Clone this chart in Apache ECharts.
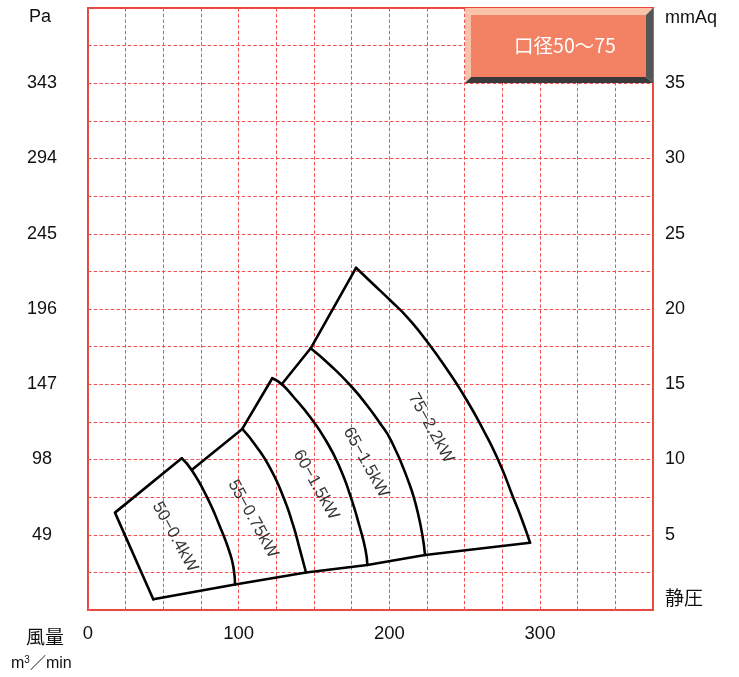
<!DOCTYPE html>
<html>
<head>
<meta charset="utf-8">
<script src="https://cdn.jsdelivr.net/npm/echarts@6/dist/echarts.min.js"></script>
<style>
html,body{margin:0;padding:0;background:#fff;}
#chart{width:739px;height:677px;}
</style>
</head>
<body>
<div id="chart"></div>
<script>
// ---- data (x: 風量 m3/min, y: 静圧 mmAq) ----
const xTickLabels = [0, 100, 200, 300];
const mmAqTicks = [5, 10, 15, 20, 25, 30, 35];
const paTicks = [49, 98, 147, 196, 245, 294, 343];

// outline: left + top edge of 50 region
const edge50 = [[43.3, 0.71], [17.9, 6.47], [62.2, 10.08]];
// right boundary curves of each region, with the top edges joining them
const curve50 = [[62.2, 10.08], [68.8, 9.30], [78.8, 7.53], [87.6, 5.53], [94.2, 3.77], [96.6, 2.79], [97.6, 1.69]];
const top55 = [[68.8, 9.30], [102.4, 12.03]];
const curve55 = [[102.4, 12.03], [111.5, 10.90], [120.8, 9.44], [129.4, 7.57], [136.1, 5.65], [140.7, 3.99], [144.7, 2.49]];
const top60 = [[102.4, 12.03], [122.3, 15.40]];
const curve60 = [[122.3, 15.40], [128.6, 15.00], [136.3, 14.17], [147.3, 12.84], [158.4, 11.18], [167.3, 9.42], [174.3, 7.53], [180.3, 5.53], [184.2, 3.99], [185.4, 2.99]];
const top65 = [[128.6, 15.00], [147.8, 17.39]];
const curve65 = [[147.8, 17.39], [160.6, 16.28], [173.9, 14.95], [185.0, 13.62], [193.8, 12.41], [200.9, 11.30], [211.5, 8.86], [219.0, 6.43], [223.7, 3.65]];
const top75 = [[147.8, 17.39], [177.9, 22.74]];
const curve75 = [[177.9, 22.74], [188.5, 21.73], [200.4, 20.60], [212.4, 19.40], [224.8, 17.87], [238.1, 16.01], [250.9, 14.02], [262.4, 11.96], [273.2, 9.75], [282.0, 7.53], [288.1, 5.98], [293.4, 4.47]];
const bottomLine = [[43.3, 0.71], [97.6, 1.69], [144.7, 2.49], [185.4, 2.99], [223.7, 3.65], [293.4, 4.47]];

const regionNames = ['50−0.4kW', '55−0.75kW', '60−1.5kW', '65−1.5kW', '75−2.2kW'];
const regionLabelX = [57.7, 109.5, 151.3, 184.5, 227.7];
const regionLabelY = [4.85, 6.05, 8.31, 9.80, 12.09];

const titleText = '口径50〜75';

// ---- chart ----
const FONT = '"Liberation Sans", Arial, "Noto Sans CJK JP", sans-serif';
const red = '#e8463a';
const gridRed = '#f25050';

function lineSeries(data, smooth) {
  return {
    type: 'line', data: data, smooth: smooth ? 0.55 : false,
    showSymbol: false, symbol: 'none', silent: true,
    lineStyle: { color: '#000', width: 2.6, join: 'round', cap: 'round' },
    z: 5
  };
}

const series = [
  lineSeries(edge50, false),
  lineSeries(curve50, true),
  lineSeries(top55, false),
  lineSeries(curve55, true),
  lineSeries(top60, false),
  lineSeries(curve60, true),
  lineSeries(top65, false),
  lineSeries(curve65, true),
  lineSeries(top75, false),
  lineSeries(curve75, true),
  lineSeries(bottomLine, false),
  {
    type: 'scatter', symbolSize: 0, silent: true, z: 6,
    data: regionNames.map((n, i) => ({ value: [regionLabelX[i], regionLabelY[i]], name: n })),
    label: {
      show: true, position: 'inside', formatter: p => p.name, rotate: -61,
      color: '#000', fontSize: 17, fontFamily: FONT
    }
  }
];

const chart = echarts.init(document.getElementById('chart'), null, { renderer: 'canvas' });
chart.setOption({
  animation: false,
  backgroundColor: '#fff',
  grid: { left: 88, top: 8, width: 565, height: 602, show: true, borderColor: red, borderWidth: 2, backgroundColor: '#fff' },
  xAxis: {
    type: 'value', min: 0, max: 375, interval: 25,
    axisLine: { show: false }, axisTick: { show: false },
    splitLine: { show: true, lineStyle: { color: gridRed, type: [3.5, 2.2], width: 1 } },
    axisLabel: {
      margin: 15, fontSize: 18.5, color: '#111', fontFamily: FONT,
      formatter: v => xTickLabels.indexOf(v) >= 0 ? String(v) : ''
    }
  },
  yAxis: [
    {
      type: 'value', min: 0, max: 40, interval: 2.5, position: 'left',
      axisLine: { show: false }, axisTick: { show: false },
      splitLine: { show: true, lineStyle: { color: gridRed, type: [3.5, 2.2], width: 1 } },
      axisLabel: {
        margin: 46, align: 'center', fontSize: 18, color: '#111', fontFamily: FONT,
        formatter: v => { const i = mmAqTicks.indexOf(v); return i >= 0 ? String(paTicks[i]) : ''; }
      }
    },
    {
      type: 'value', min: 0, max: 40, interval: 2.5, position: 'right',
      axisLine: { show: false }, axisTick: { show: false }, splitLine: { show: false },
      axisLabel: {
        margin: 12, align: 'left', fontSize: 18, color: '#111', fontFamily: FONT,
        formatter: v => mmAqTicks.indexOf(v) >= 0 ? String(v) : ''
      }
    }
  ],
  series: series,
  graphic: [
    { type: 'text', left: 29, top: 8, z: 10, style: { text: 'Pa', fill: '#111', font: '18px ' + FONT } },
    { type: 'text', left: 665, top: 9, z: 10, style: { text: 'mmAq', fill: '#111', font: '18px ' + FONT } },
    { type: 'text', left: 665, top: 590, z: 10, style: { text: '静圧', fill: '#111', font: '19px ' + FONT } },
    { type: 'text', left: 26, top: 629, z: 10, style: { text: '風量', fill: '#111', font: '19px ' + FONT } },
    { type: 'text', left: 11, top: 655, z: 10, style: {
        text: '{a|m}{s|3}{a|／min}', fill: '#111',
        rich: { a: { fontSize: 16, fontFamily: FONT, fill: '#111' }, s: { fontSize: 10, fontFamily: FONT, fill: '#111', verticalAlign: 'top', padding: [0, 0, 8, 0] } }
      } },
    // title box (beveled)
    { type: 'rect', z: 20, shape: { x: 471, y: 15, width: 175, height: 62 }, style: { fill: '#f38163' } },
    { type: 'polygon', z: 21, shape: { points: [[465, 8], [653, 8], [646, 15], [471, 15]] }, style: { fill: '#f9c3aa' } },
    { type: 'polygon', z: 21, shape: { points: [[465, 8], [471, 15], [471, 77], [465, 83]] }, style: { fill: '#f9c3aa' } },
    { type: 'polygon', z: 21, shape: { points: [[465, 83], [471, 77], [646, 77], [653, 83]] }, style: { fill: '#3a3a3a' } },
    { type: 'polygon', z: 21, shape: { points: [[653, 8], [653, 83], [646, 77], [646, 15]] }, style: { fill: '#555' } },
    { type: 'text', z: 22, x: 565, y: 46, style: { text: titleText, fill: '#fff', font: '19.5px "Noto Sans CJK JP", ' + FONT, textAlign: 'center', textVerticalAlign: 'middle' } }
  ]
});
</script>
</body>
</html>
